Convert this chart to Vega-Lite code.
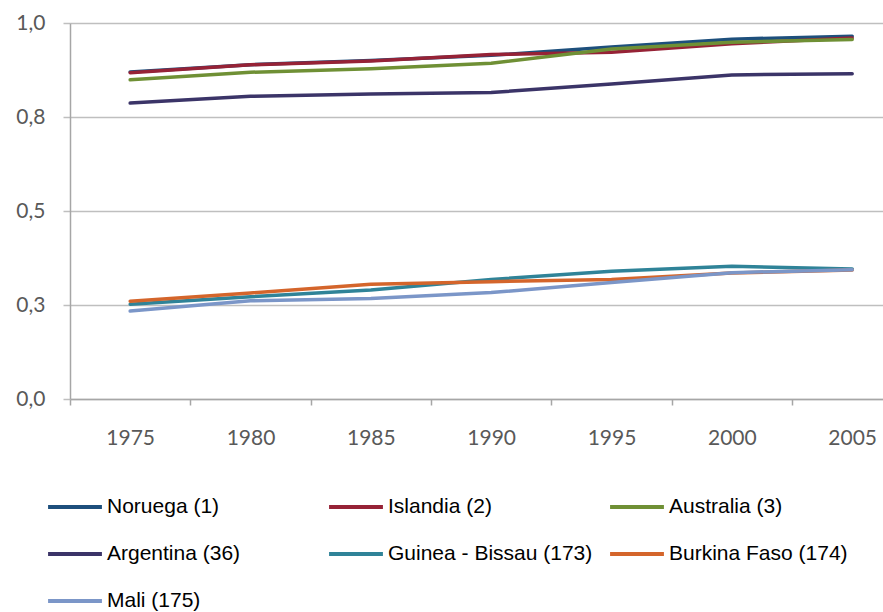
{
  "$schema": "https://vega.github.io/schema/vega-lite/v6.json",
  "width": 813,
  "height": 376,
  "autosize": "none",
  "padding": {"left": 70, "top": 23, "right": 0, "bottom": 213},
  "background": "white",
  "config": {"view": {"stroke": null}, "font": "Liberation Sans"},
  "data": {
    "values": [
      {"pais": "Noruega (1)", "year": 1975, "idh": 0.870},
      {"pais": "Noruega (1)", "year": 1980, "idh": 0.889},
      {"pais": "Noruega (1)", "year": 1985, "idh": 0.900},
      {"pais": "Noruega (1)", "year": 1990, "idh": 0.914},
      {"pais": "Noruega (1)", "year": 1995, "idh": 0.936},
      {"pais": "Noruega (1)", "year": 2000, "idh": 0.957},
      {"pais": "Noruega (1)", "year": 2005, "idh": 0.965},
      {"pais": "Islandia (2)", "year": 1975, "idh": 0.868},
      {"pais": "Islandia (2)", "year": 1980, "idh": 0.889},
      {"pais": "Islandia (2)", "year": 1985, "idh": 0.899},
      {"pais": "Islandia (2)", "year": 1990, "idh": 0.916},
      {"pais": "Islandia (2)", "year": 1995, "idh": 0.922},
      {"pais": "Islandia (2)", "year": 2000, "idh": 0.945},
      {"pais": "Islandia (2)", "year": 2005, "idh": 0.960},
      {"pais": "Australia (3)", "year": 1975, "idh": 0.849},
      {"pais": "Australia (3)", "year": 1980, "idh": 0.869},
      {"pais": "Australia (3)", "year": 1985, "idh": 0.878},
      {"pais": "Australia (3)", "year": 1990, "idh": 0.893},
      {"pais": "Australia (3)", "year": 1995, "idh": 0.931},
      {"pais": "Australia (3)", "year": 2000, "idh": 0.949},
      {"pais": "Australia (3)", "year": 2005, "idh": 0.956},
      {"pais": "Argentina (36)", "year": 1975, "idh": 0.787},
      {"pais": "Argentina (36)", "year": 1980, "idh": 0.805},
      {"pais": "Argentina (36)", "year": 1985, "idh": 0.811},
      {"pais": "Argentina (36)", "year": 1990, "idh": 0.815},
      {"pais": "Argentina (36)", "year": 1995, "idh": 0.838},
      {"pais": "Argentina (36)", "year": 2000, "idh": 0.862},
      {"pais": "Argentina (36)", "year": 2005, "idh": 0.865},
      {"pais": "Guinea - Bissau (173)", "year": 1975, "idh": 0.252},
      {"pais": "Guinea - Bissau (173)", "year": 1980, "idh": 0.272},
      {"pais": "Guinea - Bissau (173)", "year": 1985, "idh": 0.290},
      {"pais": "Guinea - Bissau (173)", "year": 1990, "idh": 0.318},
      {"pais": "Guinea - Bissau (173)", "year": 1995, "idh": 0.340},
      {"pais": "Guinea - Bissau (173)", "year": 2000, "idh": 0.353},
      {"pais": "Guinea - Bissau (173)", "year": 2005, "idh": 0.346},
      {"pais": "Burkina Faso (174)", "year": 1975, "idh": 0.260},
      {"pais": "Burkina Faso (174)", "year": 1980, "idh": 0.282},
      {"pais": "Burkina Faso (174)", "year": 1985, "idh": 0.305},
      {"pais": "Burkina Faso (174)", "year": 1990, "idh": 0.312},
      {"pais": "Burkina Faso (174)", "year": 1995, "idh": 0.318},
      {"pais": "Burkina Faso (174)", "year": 2000, "idh": 0.335},
      {"pais": "Burkina Faso (174)", "year": 2005, "idh": 0.343},
      {"pais": "Mali (175)", "year": 1975, "idh": 0.234},
      {"pais": "Mali (175)", "year": 1980, "idh": 0.261},
      {"pais": "Mali (175)", "year": 1985, "idh": 0.267},
      {"pais": "Mali (175)", "year": 1990, "idh": 0.283},
      {"pais": "Mali (175)", "year": 1995, "idh": 0.310},
      {"pais": "Mali (175)", "year": 2000, "idh": 0.336},
      {"pais": "Mali (175)", "year": 2005, "idh": 0.344}
    ]
  },
  "mark": {"type": "line", "strokeWidth": 3.5, "strokeCap": "round", "strokeJoin": "round"},
  "encoding": {
    "x": {
      "field": "year",
      "type": "quantitative",
      "scale": {"domain": [1972.5, 2006.28], "nice": false, "zero": false},
      "axis": {
        "title": null,
        "values": [1972.5, 1975, 1977.5, 1980, 1982.5, 1985, 1987.5, 1990, 1992.5, 1995, 1997.5, 2000, 2002.5, 2005],
        "grid": false,
        "domainColor": "#a6a6a6",
        "domainWidth": 1.5,
        "tickColor": "#a6a6a6",
        "tickWidth": 1.5,
        "tickSize": 6,
        "tickOpacity": {"condition": {"test": "datum.value % 5 == 0", "value": 0}, "value": 1},
        "labelExpr": "datum.value % 5 == 0 ? format(datum.value, 'd') : ''",
        "labelOverlap": false,
        "labelFlush": false,
        "labelFont": "Lato",
        "labelFontSize": 21,
        "labelColor": "#595959",
        "labelPadding": 22
      }
    },
    "y": {
      "field": "idh",
      "type": "quantitative",
      "scale": {"domain": [0, 1], "nice": false},
      "axis": {
        "title": null,
        "values": [0, 0.25, 0.5, 0.75, 1],
        "labelExpr": "replace(format(datum.value, '.1f'), '.', ',')",
        "grid": true,
        "gridColor": "#bfbfbf",
        "gridWidth": 1.5,
        "domainColor": "#a6a6a6",
        "domainWidth": 1.5,
        "tickColor": "#bfbfbf",
        "tickWidth": 1.5,
        "tickSize": 7,
        "labelFont": "Lato",
        "labelFontSize": 21,
        "labelColor": "#595959",
        "labelPadding": 18
      }
    },
    "color": {
      "field": "pais",
      "type": "nominal",
      "sort": null,
      "scale": {
        "domain": ["Noruega (1)", "Islandia (2)", "Australia (3)", "Argentina (36)", "Guinea - Bissau (173)", "Burkina Faso (174)", "Mali (175)"],
        "range": ["#1d4f7c", "#962236", "#6f9035", "#3b3468", "#2f8398", "#d4652b", "#7b96c8"]
      },
      "legend": {
        "title": null,
        "orient": "none",
        "direction": "horizontal",
        "legendX": -24,
        "legendY": 455,
        "columns": 3,
        "gridAlign": "all",
        "symbolType": "stroke",
        "symbolSize": 2900,
        "symbolStrokeWidth": 4,
        "labelFont": "Liberation Sans",
        "labelFontSize": 21,
        "labelColor": "#000000",
        "labelOffset": 3,
        "labelLimit": 400,
        "columnPadding": 9,
        "rowPadding": 8
      }
    }
  }
}
